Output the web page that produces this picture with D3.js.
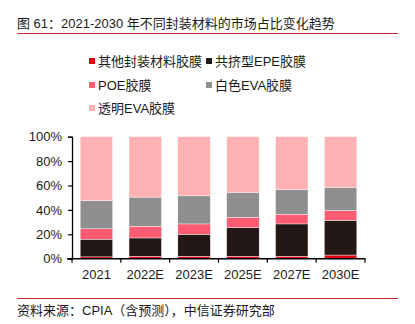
<!DOCTYPE html>
<html>
<head>
<meta charset="utf-8">
<script src="https://cdn.jsdelivr.net/npm/d3@7"></script>
<style>
  html, body { margin: 0; padding: 0; background: #fff; }
  svg { display: block; font-family: "Liberation Sans", Arial, "Noto Sans CJK SC", sans-serif; }
</style>
</head>
<body>
<div id="chart"></div>
<script>
// 年份与各类封装胶膜占比（%）
const years = ['2021', '2022E', '2023E', '2025E', '2027E', '2030E'];
const otherFilm = [1.5, 2, 2, 2, 2, 3];
const epeFilm = [14.5, 15, 18, 23.5, 26.5, 28.5];
const poeFilm = [8.5, 9.5, 8.5, 8.5, 8, 8];
const whiteEva = [23, 24, 23, 20, 20, 19];
const clearEva = [52.5, 49.5, 48.5, 46, 43.5, 41.5];

const seriesNames = ['其他封装材料胶膜', '共挤型EPE胶膜', 'POE胶膜', '白色EVA胶膜', '透明EVA胶膜'];
const seriesValues = [otherFilm, epeFilm, poeFilm, whiteEva, clearEva];
const colors = ['#e00012', '#231815', '#ff5b73', '#8f8f8f', '#ffb1b3'];
const yTicks = [0, 20, 40, 60, 80, 100];

const W = 415, H = 324;
const svg = d3.select('#chart').append('svg')
  .attr('width', W)
  .attr('height', H);

// 标题与分隔线
svg.append('text')
  .attr('x', 17).attr('y', 28)
  .attr('font-size', 13).attr('fill', '#1a1a1a')
  .text('图 61：2021-2030 年不同封装材料的市场占比变化趋势');
svg.append('line')
  .attr('x1', 17).attr('x2', 398).attr('y1', 33.5).attr('y2', 33.5)
  .attr('stroke', '#c0282d').attr('stroke-width', 1);

// 图例
const legendPos = [[89, 61], [206, 61], [89, 85], [206, 85], [89, 108]];
const legend = svg.append('g');
seriesNames.forEach((name, i) => {
  const [lx, ly] = legendPos[i];
  legend.append('rect')
    .attr('x', lx).attr('y', ly - 3).attr('width', 6).attr('height', 6)
    .attr('fill', colors[i]);
  legend.append('text')
    .attr('x', lx + 9).attr('y', ly)
    .attr('dy', '0.36em')
    .attr('font-size', 13).attr('fill', '#1a1a1a')
    .text(name);
});

// 堆叠数据
const rows = years.map((y, i) => {
  const r = { year: y };
  seriesNames.forEach((n, k) => { r[n] = seriesValues[k][i]; });
  return r;
});
const stacked = d3.stack().keys(seriesNames)(rows);

const x = d3.scaleBand().domain(years).range([72, 365]).paddingInner(0.335).paddingOuter(0.1675);
const y = d3.scaleLinear().domain([0, 100]).range([258.7, 136.7]);

const plot = svg.append('g');
plot.selectAll('g.layer')
  .data(stacked)
  .join('g')
  .attr('class', 'layer')
  .attr('fill', (d, i) => colors[i])
  .selectAll('rect')
  .data(d => d)
  .join('rect')
  .attr('x', d => x(d.data.year))
  .attr('width', x.bandwidth())
  .attr('y', d => y(d[1]))
  .attr('height', d => y(d[0]) - y(d[1]))
  .attr('stroke', '#fff')
  .attr('stroke-width', 0.4);

// Y 轴
const yAxis = svg.append('g')
  .attr('transform', 'translate(72,0)')
  .call(d3.axisLeft(y).tickValues(yTicks).tickFormat(d => d + '%').tickSize(4).tickPadding(6));
yAxis.select('.domain').attr('stroke', '#000').attr('stroke-width', 1.3);
yAxis.selectAll('.tick line').attr('stroke', '#000').attr('stroke-width', 1.2);
yAxis.selectAll('.tick text')
  .attr('font-size', 13).attr('fill', '#1a1a1a')
  .attr('font-family', '"Liberation Sans", Arial, sans-serif');

// X 轴：刻度位于类目分界处
const xAxisG = svg.append('g').attr('transform', 'translate(0,258.7)');
xAxisG.append('line')
  .attr('x1', 67).attr('x2', 365.5)
  .attr('stroke', '#000').attr('stroke-width', 1.6);
const bounds = years.map(d => x(d) - x.step() * x.paddingInner() / 2).concat([365]);
xAxisG.selectAll('line.tk')
  .data(bounds)
  .join('line')
  .attr('class', 'tk')
  .attr('x1', d => d).attr('x2', d => d)
  .attr('y1', 0).attr('y2', 4)
  .attr('stroke', '#000').attr('stroke-width', 1.2);
xAxisG.selectAll('text')
  .data(years)
  .join('text')
  .attr('x', d => x(d) + x.bandwidth() / 2)
  .attr('y', 20)
  .attr('text-anchor', 'middle')
  .attr('font-size', 13).attr('fill', '#1a1a1a')
  .text(d => d);

// 资料来源
svg.append('line')
  .attr('x1', 17).attr('x2', 398).attr('y1', 298.5).attr('y2', 298.5)
  .attr('stroke', '#c0282d').attr('stroke-width', 1);
svg.append('text')
  .attr('x', 17).attr('y', 315)
  .attr('font-size', 13).attr('fill', '#1a1a1a')
  .text('资料来源：CPIA（含预测），中信证券研究部');
</script>
</body>
</html>
